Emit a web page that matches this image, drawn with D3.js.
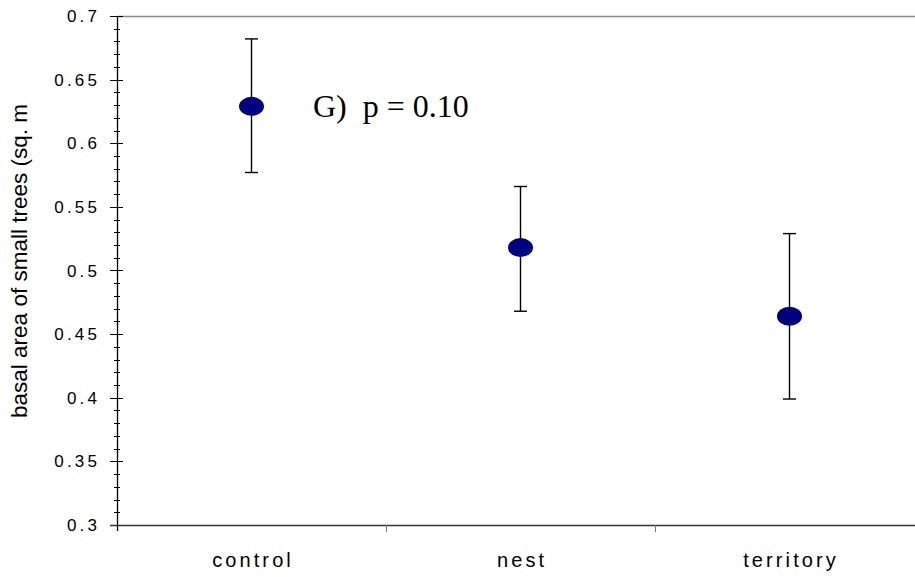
<!DOCTYPE html>
<html>
<head>
<meta charset="utf-8">
<script src="https://cdn.jsdelivr.net/npm/d3@7"></script>
<style>
  html, body { margin: 0; padding: 0; background: #fff; }
  svg { display: block; }
</style>
</head>
<body>
<svg id="chart" width="915" height="577"></svg>
<script>
// Group means with upper/lower error limits
const categories = ["control", "nest", "territory"];
const means = [0.629, 0.518, 0.464];
const upper = [0.682, 0.566, 0.529];
const lower = [0.577, 0.468, 0.399];
const yTicks = [0.3, 0.35, 0.4, 0.45, 0.5, 0.55, 0.6, 0.65, 0.7];
const yTitle = "basal area of small trees (sq. m";
const note = "G)  p = 0.10";

(function () {
const svg = d3.select("#chart");
const plotLeft = 117, plotTop = 16, plotBottom = 525;
const band = 269;

const x = d3.scaleBand().domain(categories).range([plotLeft, plotLeft + band * categories.length]).padding(0);
const y = d3.scaleLinear().domain([0.3, 0.7]).range([plotBottom, plotTop]);

// top frame line (grey)
svg.append("line")
  .attr("x1", plotLeft).attr("x2", 915).attr("y1", plotTop + 0.5).attr("y2", plotTop + 0.5)
  .attr("stroke", "#8a8a8a").attr("stroke-width", 1.5);

// minor y ticks
const minor = d3.range(30, 71).map(v => v / 100);
svg.append("g").selectAll("line").data(minor).join("line")
  .attr("x1", plotLeft - 3).attr("x2", plotLeft + 3)
  .attr("y1", d => Math.round(y(d)) + 0.5).attr("y2", d => Math.round(y(d)) + 0.5)
  .attr("stroke", "#000").attr("stroke-width", 1);

// major y ticks + labels
const labelSpacing = 3.2;
const yg = svg.append("g");
yg.selectAll("line").data(yTicks).join("line")
  .attr("x1", plotLeft - 7).attr("x2", plotLeft + 6)
  .attr("y1", d => Math.round(y(d)) + 0.5).attr("y2", d => Math.round(y(d)) + 0.5)
  .attr("stroke", "#000").attr("stroke-width", 1);
yg.selectAll("text").data(yTicks).join("text")
  .attr("x", 97 + labelSpacing).attr("y", d => y(d))
  .attr("dy", "0.36em")
  .attr("text-anchor", "end")
  .attr("font-family", "Liberation Sans, Arial, sans-serif")
  .attr("font-size", 17)
  .attr("letter-spacing", labelSpacing)
  .attr("fill", "#000")
  .text(d => String(d));

// y axis line
svg.append("line")
  .attr("x1", plotLeft + 0.5).attr("x2", plotLeft + 0.5).attr("y1", plotTop).attr("y2", plotBottom + 6)
  .attr("stroke", "#000").attr("stroke-width", 1.3);

// x axis line
svg.append("line")
  .attr("x1", plotLeft - 7).attr("x2", 915).attr("y1", plotBottom + 0.5).attr("y2", plotBottom + 0.5)
  .attr("stroke", "#333").attr("stroke-width", 1.3);

// x category boundary ticks
const bounds = categories.map(c => x(c)).concat([x(categories[categories.length - 1]) + x.bandwidth()]);
svg.append("g").selectAll("line").data(bounds.slice(1)).join("line")
  .attr("x1", d => d + 0.5).attr("x2", d => d + 0.5)
  .attr("y1", plotBottom).attr("y2", plotBottom + 7)
  .attr("stroke", "#777").attr("stroke-width", 1);

// x labels
const catSpacing = 3.1;
svg.append("g").selectAll("text").data(categories).join("text")
  .attr("x", d => x(d) + x.bandwidth() / 2 + catSpacing / 2)
  .attr("y", 567)
  .attr("text-anchor", "middle")
  .attr("font-family", "Liberation Sans, Arial, sans-serif")
  .attr("font-size", 20)
  .attr("letter-spacing", catSpacing)
  .attr("fill", "#000")
  .text(d => d);

// y title
svg.append("text")
  .attr("transform", "translate(27, 261) rotate(-90)")
  .attr("text-anchor", "middle")
  .attr("font-family", "Liberation Sans, Arial, sans-serif")
  .attr("font-size", 22.5)
  .attr("fill", "#000")
  .text(yTitle);

// error bars
const eg = svg.append("g").attr("stroke", "#000").attr("stroke-width", 1.4);
categories.forEach((c, i) => {
  const cx = x(c) + x.bandwidth() / 2;
  eg.append("line").attr("x1", cx).attr("x2", cx).attr("y1", y(upper[i])).attr("y2", y(lower[i]));
  eg.append("line").attr("x1", cx - 6.5).attr("x2", cx + 6.5).attr("y1", y(upper[i])).attr("y2", y(upper[i]));
  eg.append("line").attr("x1", cx - 6.5).attr("x2", cx + 6.5).attr("y1", y(lower[i])).attr("y2", y(lower[i]));
});

// mean markers
svg.append("g").selectAll("ellipse").data(categories).join("ellipse")
  .attr("cx", d => x(d) + x.bandwidth() / 2)
  .attr("cy", (d, i) => y(means[i]))
  .attr("rx", 12.5).attr("ry", 9.5)
  .attr("fill", "#000080");

// annotation
svg.append("text")
  .attr("x", 313).attr("y", 117)
  .attr("font-family", "Liberation Serif, Times New Roman, serif")
  .attr("font-size", 32)
  .attr("fill", "#000")
  .style("white-space", "pre")
  .text(note);
})();
</script>
</body>
</html>
